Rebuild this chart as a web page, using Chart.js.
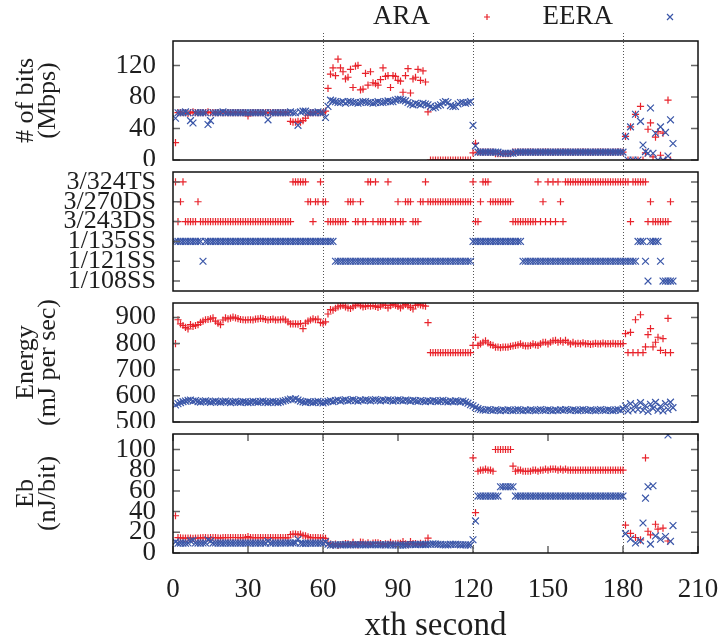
<!DOCTYPE html>
<html>
<head>
<meta charset="utf-8">
<script src="https://cdn.jsdelivr.net/npm/chart.js@4.4.1/dist/chart.umd.min.js"></script>
<style>
  html, body { margin: 0; padding: 0; background: #fff; }
  #fig { position: relative; width: 725px; height: 643px; }
  #fig canvas { position: absolute; left: 0; }
</style>
</head>
<body>
<div id="fig">
  <canvas id="bitsChart" width="725" height="166" style="top:0px"></canvas>
  <canvas id="modeChart" width="725" height="131" style="top:166px"></canvas>
  <canvas id="energyChart" width="725" height="131" style="top:297px"></canvas>
  <canvas id="ebChart" width="725" height="215" style="top:428px"></canvas>
</div>
<script>
// one sample per second, first sample at t = 1
var firstSecond = 1;
var seriesNames = ['ARA', 'EERA'];
var modeLabels = ['1/108SS', '1/121SS', '1/135SS', '3/243DS', '3/270DS', '3/324TS'];
var secondTicks = [0, 30, 60, 90, 120, 150, 180, 210];
var bitsTicks = [0, 40, 80, 120];
var energyTicks = [500, 600, 700, 800, 900];
var ebTicks = [0, 20, 40, 60, 80, 100];
var phaseStarts = [60, 120, 180];

// throughput, Mbps
var araBits = [
  22, 60, 60, 60, 60, 59, 60, 61, 60, 60,
  60, 60, 60, 61, 60, 60, 60, 60, 60, 60,
  60, 60, 60, 60, 60, 60, 60, 60, 60, 56,
  60, 60, 60, 60, 60, 60, 60, 60, 60, 60,
  60, 60, 60, 60, 60, 60, 49, 48, 48, 49,
  48, 50, 53, 57, 60, 60, 60, 60, 60, 60,
  62, 91, 109, 117, 107, 128, 117, 112, 103, 105,
  115, 92, 119, 120, 89, 90, 110, 95, 112, 98,
  97, 95, 102, 117, 106, 107, 92, 107, 106, 101,
  100, 86, 107, 116, 85, 103, 105, 115, 101, 113,
  99, 61, 0, 0, 0, 0, 0, 0, 0, 0,
  0, 0, 0, 0, 0, 0, 0, 0, 0, 9,
  21, 10, 10, 10, 10, 10, 10, 10, 8, 8,
  8, 8, 8, 8, 8, 10, 10, 10, 10, 10,
  10, 10, 10.2, 10, 9.8, 10, 10, 10, 10.2, 10,
  10, 9.8, 10, 10, 10, 10.2, 10, 10, 10, 9.8,
  10, 10, 10, 10.2, 10, 10, 9.8, 10, 10, 10,
  10.2, 10, 10, 10, 9.8, 10, 10, 10.2, 10, 10,
  30, 0, 42, 0, 58, 0, 68, 0, 9, 39,
  47, 4, 29, 36, 6, 34, 0, 76, 0, null
];
var eeraBits = [
  53, 60, 60, 60, 61, 60, 50, 47, 60, 60,
  60, 60, 60, 45, 50, 60, 60, 60, 60, 61,
  60, 60, 60, 60, 60, 60, 60, 60, 60, 60,
  60, 60, 60, 60, 60, 60, 60, 51, 60, 60,
  60, 60, 60, 60, 60, 60, 61, 60, 60, 44,
  61, 62, 62, 60, 60, 60, 60, 61, 60, 60,
  54, 68, 76, 75, 74, 73, 73, 74, 72, 74,
  74, 73, 73, 72, 73, 74, 74, 73, 73, 72,
  73, 74, 73, 73, 74, 75, 74, 74, 76, 77,
  77, 76, 75, 73, 71, 70, 72, 71, 70, 72,
  71, 70, 68, 66, 67, 69, 70, 73, 74, 73,
  69, 68, 68, 71, 73, 73, 72, 73, 74, 44,
  18, 10, 10, 10, 10, 10, 10, 10, 10, 10,
  8.5, 8.5, 8.5, 8.5, 8.5, 8.5, 10, 10, 10, 10,
  10, 10, 10, 10, 10, 10, 10, 10, 10, 10,
  10, 10, 10, 10, 10, 10, 10, 10, 10, 10,
  10, 10, 10, 10, 10, 10, 10, 10, 10, 10,
  10, 10, 10, 10, 10, 10, 10, 10, 10, 10,
  30, 0, 42, 0, 58, 0, 49, 19, 10.6, 8.5,
  66, 8.5, 34, 0, 42, 0, 35, 5, 51, 21
];

// modulation, index into modeLabels
var araMode = [
  5, 3, 4, 5, 3, 3, 3, 3, 3, 4,
  3, 3, 3, 3, 3, 3, 3, 3, 3, 3,
  3, 3, 3, 3, 3, 3, 3, 3, 3, 3,
  3, 3, 3, 3, 3, 3, 3, 3, 3, 3,
  3, 3, 3, 3, 3, 3, 3, 5, 5, 5,
  5, 5, 5, 4, 4, 3, 4, 4, 5, 4,
  4, 3, 3, 3, 3, 3, 3, 3, 3, 4,
  4, 4, 3, 3, 4, 3, 3, 5, 5, 3,
  5, 3, 3, 3, 3, 5, 3, 3, 3, 4,
  3, 3, 4, 4, 4, 3, 3, 3, 4, 4,
  5, 4, 4, 4, 4, 4, 4, 4, 4, 4,
  4, 4, 4, 4, 4, 4, 4, 4, 4, 5,
  3, 3, 4, 5, 5, 5, 4, 4, 4, 4,
  4, 4, 4, 4, 4, 3, 3, 3, 3, 3,
  3, 3, 3, 3, 3, 5, 3, 4, 3, 5,
  3, 5, 3, 5, 4, 3, 5, 5, 5, 5,
  5, 5, 5, 5, 5, 5, 5, 5, 5, 5,
  5, 5, 5, 5, 5, 5, 5, 5, 5, 5,
  5, 5, 3, 5, 5, 5, 5, 5, 5, 3,
  4, 3, 3, 3, 3, 3, 3, 3, 4, null
];
var eeraMode = [
  2, 2, 2, 2, 2, 2, 2, 2, 2, 2,
  2, 1, 2, 2, 2, 2, 2, 2, 2, 2,
  2, 2, 2, 2, 2, 2, 2, 2, 2, 2,
  2, 2, 2, 2, 2, 2, 2, 2, 2, 2,
  2, 2, 2, 2, 2, 2, 2, 2, 2, 2,
  2, 2, 2, 2, 2, 2, 2, 2, 2, 2,
  2, 2, 2, 2, 1, 1, 1, 1, 1, 1,
  1, 1, 1, 1, 1, 1, 1, 1, 1, 1,
  1, 1, 1, 1, 1, 1, 1, 1, 1, 1,
  1, 1, 1, 1, 1, 1, 1, 1, 1, 1,
  1, 1, 1, 1, 1, 1, 1, 1, 1, 1,
  1, 1, 1, 1, 1, 1, 1, 1, 1, 2,
  2, 2, 2, 2, 2, 2, 2, 2, 2, 2,
  2, 2, 2, 2, 2, 2, 2, 2, 2, 1,
  1, 1, 1, 1, 1, 1, 1, 1, 1, 1,
  1, 1, 1, 1, 1, 1, 1, 1, 1, 1,
  1, 1, 1, 1, 1, 1, 1, 1, 1, 1,
  1, 1, 1, 1, 1, 1, 1, 1, 1, 1,
  1, 1, 1, 1, 1, 2, 2, 2, 1, 0,
  2, 2, 2, 2, 1, 0, 0, 0, 0, 0
];

// power draw, mJ per second
var araEnergy = [
  800, 891, 875, 869, 862, 856, 872, 866, 869, 872,
  881, 886, 891, 892, 894, 898, 886, 878, 872, 890,
  898, 894, 897, 901, 898, 895, 892, 891, 890, 891,
  891, 890, 893, 894, 896, 895, 892, 890, 892, 893,
  890, 891, 891, 893, 890, 883, 875, 875, 875, 874,
  876, 857, 878, 886, 890, 894, 891, 893, 880, 878,
  883, 913, 930, 928, 935, 940, 944, 946, 940, 936,
  934, 940, 946, 952, 945, 940, 942, 945, 943, 945,
  942, 938, 943, 948, 946, 936, 945, 950, 947, 942,
  936, 944, 950, 944, 938, 932, 946, 951, 948, 945,
  943, 880, 765, 765, 765, 765, 765, 765, 765, 765,
  765, 765, 765, 765, 765, 765, 765, 765, 765, 793,
  824, 793, 799, 805, 810, 802, 796, 793, 786, 786,
  784, 786, 786, 786, 789, 791, 793, 795, 799, 793,
  791, 791, 793, 799, 795, 793, 799, 805, 805, 799,
  805, 810, 812, 805, 810, 805, 812, 805, 799, 805,
  799, 801, 799, 803, 799, 800, 797, 799, 801, 799,
  799, 802, 799, 800, 799, 801, 799, 800, 799, 800,
  838, 765, 843, 765, 891, 765, 910, 765, 787, 834,
  857, 787, 805, 824, 774, 819, 765, 896, 765, null
];
var eeraEnergy = [
  565, 570, 574, 578, 580, 583, 584, 580, 582, 578,
  576, 579, 581, 578, 575, 578, 580, 577, 575, 578,
  580, 577, 574, 577, 579, 576, 575, 578, 577, 574,
  576, 579, 577, 575, 578, 580, 576, 574, 577, 579,
  576, 574, 577, 580, 582, 585, 588, 586, 589, 584,
  580, 577, 575, 578, 576, 574, 577, 579, 575, 573,
  576, 579, 581, 578, 582, 584, 580, 583, 585, 581,
  583, 586, 582, 580, 584, 582, 585, 583, 581, 584,
  586, 583, 581, 584, 582, 585, 583, 580, 582, 585,
  583, 581, 584, 582, 580, 583, 581, 579, 582, 580,
  578, 581, 579, 582, 580, 578, 581, 583, 579, 577,
  580, 578, 581, 579, 577, 580, 576, 572, 566, 562,
  556, 551, 548, 546, 545, 548, 546, 544, 547, 545,
  543, 546, 544, 547, 545, 543, 546, 548, 545, 543,
  546, 544, 547, 545, 543, 546, 548, 545, 544, 547,
  545, 543, 546, 544, 547, 545, 548, 546, 544, 547,
  545, 543, 546, 548, 545, 544, 547, 545, 543, 546,
  548, 545, 544, 547, 545, 543, 546, 548, 545, 550,
  561, 542, 570, 546, 565, 548, 574, 545, 562, 540,
  568, 552, 575, 545, 560, 542, 570, 548, 576, 555
];

// energy per bit, nJ/bit (no value while nothing is sent)
var araEb = [
  36, 14.9, 14.6, 14.5, 14.4, 14.5, 14.5, 14.2, 14.5, 14.5,
  14.7, 14.8, 14.9, 14.6, 14.9, 15, 14.8, 14.6, 14.5, 14.8,
  15, 14.9, 15, 15, 15, 14.9, 14.9, 14.9, 14.8, 15.9,
  14.9, 14.8, 14.9, 14.9, 14.9, 14.9, 14.9, 14.8, 14.9, 14.9,
  14.8, 14.9, 14.9, 14.9, 14.8, 14.7, 17.9, 18.2, 18.2, 17.8,
  18.3, 17.1, 16.6, 15.5, 14.8, 14.9, 14.9, 14.9, 14.7, 14.6,
  14.2, 10, 8.5, 7.9, 8.7, 7.3, 8.1, 8.4, 9.1, 8.9,
  8.1, 10.2, 8, 7.9, 10.6, 10.4, 8.6, 9.9, 8.4, 9.6,
  9.7, 9.9, 9.2, 8.1, 8.9, 8.7, 10.3, 8.9, 8.9, 9.3,
  9.4, 11, 8.9, 8.1, 11, 9, 9, 8.3, 9.4, 8.4,
  9.5, 14.4, null, null, null, null, null, null, null, null,
  null, null, null, null, null, null, null, null, null, 92,
  39, 79, 80, 80, 81, 80, 80, 79, 100, 100,
  100, 100, 100, 100, 100, 84, 79, 80, 80, 79,
  79, 79, 79, 80, 80, 79, 80, 80, 81, 80,
  81, 81, 81, 80, 81, 80, 81, 80, 80, 80,
  80, 80, 80, 80, 80, 80, 80, 80, 80, 80,
  80, 80, 80, 80, 80, 80, 80, 80, 80, 80,
  27, null, 19, null, 15, null, 12.6, null, 92, 21,
  17.5, null, 27.8, 23, null, 24, null, 11.6, null, null
];
var eeraEb = [
  10.7, 9.5, 9.6, 9.6, 9.5, 9.7, 11.7, 12.3, 9.7, 9.6,
  9.6, 9.7, 9.7, 12.8, 11.5, 9.6, 9.7, 9.6, 9.6, 9.5,
  9.7, 9.6, 9.6, 9.6, 9.7, 9.6, 9.6, 9.6, 9.6, 9.6,
  9.6, 9.7, 9.6, 9.6, 9.6, 9.7, 9.6, 11.3, 9.6, 9.7,
  9.6, 9.6, 9.6, 9.7, 9.7, 9.8, 9.6, 9.8, 9.8, 13.3,
  9.5, 9.3, 9.3, 9.6, 9.6, 9.6, 9.6, 9.5, 9.6, 9.6,
  10.7, 8.5, 7.6, 7.7, 7.9, 8, 7.9, 7.9, 8.1, 7.9,
  7.9, 8, 8, 8.1, 8, 7.9, 7.9, 8, 8, 8.1,
  8, 7.9, 8, 8, 7.9, 7.8, 7.9, 7.8, 7.7, 7.6,
  7.6, 7.6, 7.8, 8, 8.2, 8.3, 8.1, 8.2, 8.3, 8.1,
  8.1, 8.3, 8.5, 8.8, 8.7, 8.4, 8.3, 8, 7.8, 7.9,
  8.4, 8.5, 8.5, 8.2, 7.9, 7.9, 8, 7.8, 7.6, 12.8,
  31, 55, 55, 55, 55, 55, 55, 55, 55, 55,
  64, 64, 64, 64, 64, 64, 55, 55, 55, 55,
  55, 55, 55, 55, 55, 55, 55, 55, 55, 55,
  55, 55, 55, 55, 55, 55, 55, 55, 55, 55,
  55, 55, 55, 55, 55, 55, 55, 55, 55, 55,
  55, 55, 55, 55, 55, 55, 55, 55, 55, 55,
  18.7, null, 13.6, null, 9.7, null, 11.7, 29, 53, 64,
  8.6, 65, 16.5, null, 13.3, null, 16, 114, 11.3, 26.5
];

var SERIF = '"Liberation Serif", "Times New Roman", serif';
var INK = '#1e1e1e';
var ARA_RED = '#e8232b';
var EERA_BLUE = '#3a56a8';
var PLOT_LEFT = 173;

function toPoints(values) {
  var pts = [];
  values.forEach(function (v, i) {
    if (v !== null) pts.push({ x: firstSecond + i, y: v });
  });
  return pts;
}

function seriesSets(ara, eera) {
  return [
    { label: seriesNames[0], data: toPoints(ara), pointStyle: 'cross', pointRadius: 3.6,
      pointBorderColor: ARA_RED, pointBorderWidth: 1.2, order: 1 },
    { label: seriesNames[1], data: toPoints(eera), pointStyle: 'crossRot', pointRadius: 4.8,
      pointBorderColor: EERA_BLUE, pointBorderWidth: 1.2, order: 0 }
  ];
}

function valueAxis(min, max, tickValues, title, fontSize, labelOf) {
  var axis = {
    type: 'linear', min: min, max: max,
    grid: { display: false, drawTicks: false },
    border: { display: false },
    afterBuildTicks: function (s) {
      s.ticks = tickValues.map(function (v) { return { value: v }; });
    },
    afterFit: function (s) { s.width = PLOT_LEFT; s.paddingTop = 0; s.paddingBottom = 0; },
    ticks: { autoSkip: false, padding: 17, color: INK, font: { family: SERIF, size: fontSize } },
    title: {
      display: !!title, text: title || '', color: INK,
      font: { family: SERIF, size: 26, lineHeight: 0.82 },
      padding: { top: 16, bottom: 0 }
    }
  };
  if (labelOf) axis.ticks.callback = labelOf;
  return axis;
}

function timeAxis(shown) {
  if (!shown) return { type: 'linear', min: 0, max: 210, display: false };
  return {
    type: 'linear', min: 0, max: 210,
    grid: { display: false, drawTicks: false },
    border: { display: false },
    afterBuildTicks: function (s) {
      s.ticks = secondTicks.map(function (v) { return { value: v }; });
    },
    afterFit: function (s) { s.height = 90; s.paddingLeft = 0; s.paddingRight = 0; },
    ticks: { autoSkip: false, maxRotation: 0, padding: 21, color: INK, font: { family: SERIF, size: 27 } },
    title: {
      display: true, text: 'xth second', color: INK,
      font: { family: SERIF, size: 33, lineHeight: 1 },
      padding: { top: 0, bottom: 0 }
    }
  };
}

// dotted markers where the scenario changes
var phasePlugin = {
  id: 'phaseLines',
  beforeDatasetsDraw: function (chart, args, opts) {
    var a = chart.chartArea, ctx = chart.ctx, x = chart.scales.x;
    var y0 = Math.max(0, a.top - opts.above);
    var y1 = Math.min(chart.height, a.bottom + opts.below);
    ctx.save();
    ctx.strokeStyle = '#555';
    ctx.lineWidth = 1;
    ctx.setLineDash([1, 2]);
    phaseStarts.forEach(function (s) {
      var px = Math.round(x.getPixelForValue(s)) + 0.5;
      ctx.beginPath();
      ctx.moveTo(px, y0);
      ctx.lineTo(px, y1);
      ctx.stroke();
    });
    ctx.restore();
  }
};

// box around the plot with inward ticks on every side that has a scale
var framePlugin = {
  id: 'frame',
  afterDatasetsDraw: function (chart, args, opts) {
    var a = chart.chartArea, ctx = chart.ctx, len = 7;
    var y = chart.scales.y, x = chart.scales.x;
    ctx.save();
    ctx.strokeStyle = '#666';
    ctx.lineWidth = 1.5;
    ctx.beginPath();
    y.ticks.forEach(function (t) {
      var py = y.getPixelForValue(t.value);
      ctx.moveTo(a.left, py); ctx.lineTo(a.left + len, py);
      ctx.moveTo(a.right, py); ctx.lineTo(a.right - len, py);
    });
    if (opts.timeTicks) {
      x.ticks.forEach(function (t) {
        var px = x.getPixelForValue(t.value);
        ctx.moveTo(px, a.bottom); ctx.lineTo(px, a.bottom - len);
        ctx.moveTo(px, a.top); ctx.lineTo(px, a.top + len);
      });
    }
    ctx.stroke();
    ctx.strokeStyle = '#111';
    ctx.lineWidth = 1.5;
    ctx.strokeRect(a.left, a.top, a.right - a.left, a.bottom - a.top);
    ctx.restore();
  }
};

function drawMarker(ctx, style, x, y, r, color) {
  ctx.strokeStyle = color;
  ctx.lineWidth = 1.2;
  ctx.beginPath();
  if (style === 'cross') {
    ctx.moveTo(x - r, y); ctx.lineTo(x + r, y);
    ctx.moveTo(x, y - r); ctx.lineTo(x, y + r);
  } else {
    ctx.moveTo(x - r, y - r); ctx.lineTo(x + r, y + r);
    ctx.moveTo(x - r, y + r); ctx.lineTo(x + r, y - r);
  }
  ctx.stroke();
}

// gnuplot-like key: label first, sample to its right
var keyPlugin = {
  id: 'seriesKey',
  afterDraw: function (chart, args, opts) {
    if (!opts.show) return;
    var ctx = chart.ctx, right = chart.chartArea.right;
    var sets = chart.data.datasets;
    ctx.save();
    ctx.font = '27px ' + SERIF;
    ctx.textAlign = 'right';
    ctx.textBaseline = 'middle';
    sets.forEach(function (ds, i) {
      var mx = right - 28 - (sets.length - 1 - i) * 183;
      ctx.fillStyle = INK;
      ctx.fillText(ds.label, mx - 57, 17);
      drawMarker(ctx, ds.pointStyle, mx, 17, 3, ds.pointBorderColor);
    });
    ctx.restore();
  }
};

function makePanel(id, ara, eera, yAxis, pad, extra) {
  return new Chart(document.getElementById(id), {
    type: 'scatter',
    data: { datasets: seriesSets(ara, eera) },
    options: {
      responsive: false,
      animation: false,
      devicePixelRatio: 1,
      events: [],
      layout: { padding: pad },
      scales: { x: timeAxis(extra.time), y: yAxis },
      plugins: {
        legend: { display: false },
        tooltip: { enabled: false },
        phaseLines: extra.lines,
        frame: { timeTicks: !!extra.time },
        seriesKey: { show: !!extra.key }
      }
    },
    plugins: [phasePlugin, framePlugin, keyPlugin]
  });
}

makePanel('bitsChart', araBits, eeraBits,
  valueAxis(0, 151, bitsTicks, ['# of bits', '(Mbps)'], 27),
  { top: 41, bottom: 6, left: 0, right: 27 },
  { key: true, lines: { above: 8, below: 99 } });

makePanel('modeChart', araMode, eeraMode,
  valueAxis(-0.5, 5.5, [0, 1, 2, 3, 4, 5], null, 26, function (v) { return modeLabels[v]; }),
  { top: 6, bottom: 5, left: 0, right: 27 },
  { lines: { above: 99, below: 99 } });

makePanel('energyChart', araEnergy, eeraEnergy,
  valueAxis(500, 955, energyTicks, ['Energy', '(mJ per sec)'], 27),
  { top: 5, bottom: 6, left: 0, right: 27 },
  { lines: { above: 99, below: 99 } });

makePanel('ebChart', araEb, eeraEb,
  valueAxis(0, 115, ebTicks, ['Eb', '(nJ/bit)'], 27),
  { top: 6, bottom: 0, left: 0, right: 27 },
  { time: true, lines: { above: 99, below: 0 } });
</script>
</body>
</html>
